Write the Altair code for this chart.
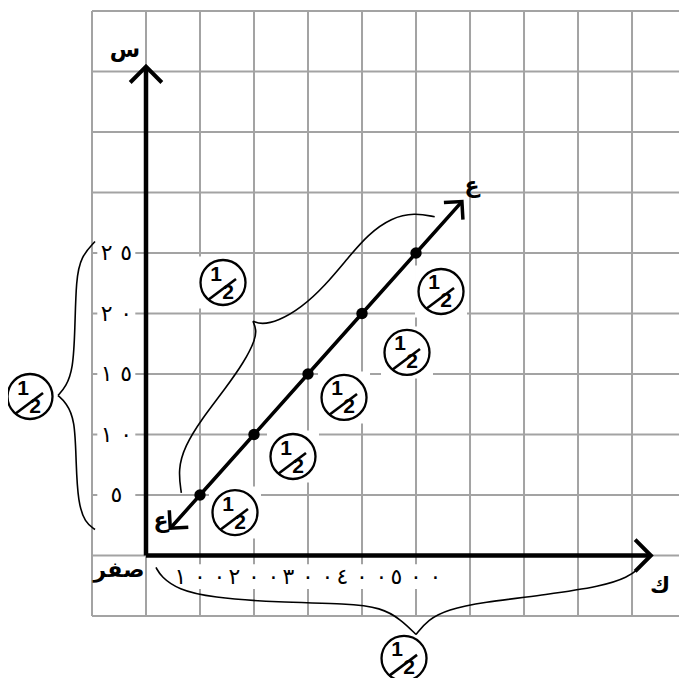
import math
import altair as alt
import pandas as pd

# ---------------- values ----------------
point_x = [100, 200, 300, 400, 500]
point_y = [5, 10, 15, 20, 25]
line_x = [45, 100, 200, 300, 400, 500, 585]
line_y = [2.25, 5, 10, 15, 20, 25, 29.25]

x_ticks = [100, 200, 300, 400, 500]
x_tick_labels = ["١٠٠", "٢٠٠", "٣٠٠", "٤٠٠", "٥٠٠"]
y_ticks = [5, 10, 15, 20, 25]
y_tick_labels = ["٥", "١٠", "١٥", "٢٠", "٢٥"]

grid_x = [-100, 0, 100, 200, 300, 400, 500, 600, 700, 800, 900]
grid_y = [-5, 0, 5, 10, 15, 20, 25, 30, 35, 40, 45]

axis_x_end = 935
axis_y_end = 40.4

half_x = [142.6, 546.3, 483.3, 366.7, 272.2, 164.8, -214.8, 477.8]
half_y = [22.56, 21.82, 16.78, 13.06, 8.18, 3.55, 13.14, -8.5]

letter_text = ["س", "ك", "صفر", "ع", "ع"]
letter_x = [-38.9, 951.9, -50.0, 603.7, 27.8]
letter_y = [41.8, -2.56, -1.16, 30.5, 2.81]

# braces (each split in two halves meeting at the tip)
brace_left_top_x = [-94.4, -120.4, -129.6, -131.5, -135.2, -148.1, -163.0]
brace_left_top_y = [25.95, 24.71, 22.81, 18.68, 15.37, 13.97, 13.22]
brace_left_bot_x = [-163.0, -148.1, -131.5, -129.6, -125.9, -113.0, -94.4]
brace_left_bot_y = [13.22, 12.64, 11.24, 7.69, 4.38, 2.73, 2.15]
brace_bottom_l_x = [18.5, 27.8, 59.3, 120.4, 244.4, 374.1, 435.2, 472.2, 500.0]
brace_bottom_l_y = [-0.99, -1.74, -2.81, -3.47, -3.88, -3.97, -4.30, -5.29, -6.53]
brace_bottom_r_x = [500.0, 522.2, 559.3, 620.4, 744.4, 842.6, 892.6, 914.8]
brace_bottom_r_y = [-6.53, -5.29, -4.46, -3.88, -3.22, -2.56, -1.82, -0.99]
brace_diag_lo_x = [65.4, 59.3, 71.7, 102.4, 145.7, 182.8, 202.4, 204.3, 198.1]
brace_diag_lo_y = [5.18, 7.11, 9.03, 11.24, 13.72, 16.06, 17.85, 18.68, 19.36]
brace_diag_up_x = [198.1, 213.5, 244.4, 287.6, 330.9, 374.1, 411.1, 454.3, 497.6, 534.6]
brace_diag_up_y = [19.36, 19.09, 19.36, 20.47, 22.26, 24.60, 26.53, 27.91, 28.32, 27.99]

# ---------------- layout ----------------
PX_X = 0.54          # pixels per x unit
PX_Y = 12.1          # pixels per y unit
X_DOMAIN = [-100, 987]
Y_DOMAIN = [-5, 45]
W = round((X_DOMAIN[1] - X_DOMAIN[0]) * PX_X)
H = round((Y_DOMAIN[1] - Y_DOMAIN[0]) * PX_Y)

xs = alt.Scale(domain=X_DOMAIN, nice=False, zero=False)
ys = alt.Scale(domain=Y_DOMAIN, nice=False, zero=False)


def X(f):
    return alt.X(f, type="quantitative", scale=xs, axis=None)


def Y(f):
    return alt.Y(f, type="quantitative", scale=ys, axis=None)


AR_FONT = "DejaVu Sans"
GRID = "#a3a3a3"
DIGIT_STEP = 19.5    # pixel spacing between digits of a tick label

# ---------------- tables ----------------
df_gx = pd.DataFrame({"gx": grid_x})
df_gy = pd.DataFrame({"gy": grid_y})
df_pts = pd.DataFrame({"x": point_x, "y": point_y})
df_line = pd.DataFrame({"x": line_x, "y": line_y})
df_half = pd.DataFrame({"x": half_x, "y": half_y})
df_xl = pd.DataFrame({"x": x_ticks, "t": x_tick_labels})
df_yl = pd.DataFrame({"y": y_ticks, "t": y_tick_labels})
df_xl["y"] = -1.74
df_yl["x"] = -55.0
df_let = pd.DataFrame({"x": letter_x, "y": letter_y, "t": letter_text})


def split_digits(df):
    rows = []
    for _, r in df.iterrows():
        n = len(r["t"])
        for k, ch in enumerate(r["t"]):
            off = (k - (n - 1) / 2) * DIGIT_STEP / PX_X
            rows.append({"x": r["x"] + off, "y": r["y"], "ch": ch})
    return pd.DataFrame(rows)


df_xd = split_digits(df_xl)
df_yd = split_digits(df_yl)

braces = []
for seg, (bx, by) in enumerate([
    (brace_left_top_x, brace_left_top_y), (brace_left_bot_x, brace_left_bot_y),
    (brace_bottom_l_x, brace_bottom_l_y), (brace_bottom_r_x, brace_bottom_r_y),
    (brace_diag_lo_x, brace_diag_lo_y), (brace_diag_up_x, brace_diag_up_y),
]):
    for i, (a, b) in enumerate(zip(bx, by)):
        braces.append({"x": a, "y": b, "seg": seg, "i": i})
df_brace = pd.DataFrame(braces)

df_yaxis = pd.DataFrame({"x": [0], "y": [0], "y2": [axis_y_end]})
df_xaxis = pd.DataFrame({"x": [0], "x2": [axis_x_end], "y": [0]})


def screen_angle(dx, dy):
    a = math.degrees(math.atan2(-dy * PX_Y, dx * PX_X))
    return a % 360


df_axis_arrows = pd.DataFrame({
    "x": [0, axis_x_end], "y": [axis_y_end, 0],
    "ang": [screen_angle(0, 1), screen_angle(1, 0)],
})
ddx = line_x[-1] - line_x[0]
ddy = line_y[-1] - line_y[0]
df_line_arrows = pd.DataFrame({
    "x": [line_x[-1], line_x[0]], "y": [line_y[-1], line_y[0]],
    "ang": [screen_angle(ddx, ddy), screen_angle(-ddx, -ddy)],
})

CHEVRON = "M-1,-1L0,0L-1,1"

# ---------------- layers ----------------
vgrid = alt.Chart(df_gx).mark_rule(color=GRID, strokeWidth=2).encode(x=X("gx"))
hgrid = alt.Chart(df_gy).mark_rule(color=GRID, strokeWidth=2).encode(y=Y("gy"))

box_half = alt.Chart(df_half).mark_point(
    shape="square", size=2704, filled=True, color="white", opacity=1, strokeWidth=0
).encode(x=X("x"), y=Y("y"))
box_xl = alt.Chart(df_xl).mark_point(
    shape="M-1,-0.46H1V0.46H-1Z", size=2916, filled=True, color="white", opacity=1, strokeWidth=0
).encode(x=X("x"), y=Y("y"))
box_yl = alt.Chart(df_yl).mark_point(
    shape="M-1,-0.63H1V0.63H-1Z", size=1444, filled=True, color="white", opacity=1, strokeWidth=0
).encode(x=X("x"), y=Y("y"))

brace = alt.Chart(df_brace).mark_line(
    color="black", strokeWidth=1.6, interpolate="basis"
).encode(x=X("x"), y=Y("y"), detail="seg:N", order="i:Q")

yaxis = alt.Chart(df_yaxis).mark_rule(color="black", strokeWidth=4.5).encode(
    x=X("x"), y=Y("y"), y2="y2")
xaxis = alt.Chart(df_xaxis).mark_rule(color="black", strokeWidth=4.5).encode(
    x=X("x"), x2="x2", y=Y("y"))

axis_arrows = alt.Chart(df_axis_arrows).mark_point(
    shape=CHEVRON, size=1000, filled=False, color="black", strokeWidth=4, opacity=1
).encode(x=X("x"), y=Y("y"), angle=alt.Angle("ang:Q", scale=None))

main_line = alt.Chart(df_line).mark_line(color="black", strokeWidth=3.5).encode(
    x=X("x"), y=Y("y"))
line_arrows = alt.Chart(df_line_arrows).mark_point(
    shape=CHEVRON, size=650, filled=False, color="black", strokeWidth=3.5, opacity=1
).encode(x=X("x"), y=Y("y"), angle=alt.Angle("ang:Q", scale=None))

points = alt.Chart(df_pts).mark_circle(size=130, color="black", opacity=1).encode(
    x=X("x"), y=Y("y"))

half_circle = alt.Chart(df_half).mark_point(
    shape="circle", size=2025, filled=True, fill="white", stroke="black",
    strokeWidth=2.3, opacity=1, fillOpacity=1
).encode(x=X("x"), y=Y("y"))
half_one = alt.Chart(df_half).mark_text(
    text="1", font="Liberation Sans", fontSize=21, fontWeight="bold",
    dx=-7, dy=-8, color="black", baseline="middle"
).encode(x=X("x"), y=Y("y"))
half_two = alt.Chart(df_half).mark_text(
    text="2", font="Liberation Sans", fontSize=21, fontWeight="bold",
    dx=5, dy=10, color="black", baseline="middle"
).encode(x=X("x"), y=Y("y"))
half_slash = alt.Chart(df_half).mark_point(
    shape="M-1,0.75L1,-0.75", size=784, filled=False, color="black",
    strokeWidth=2.6, opacity=1, xOffset=-1, yOffset=7
).encode(x=X("x"), y=Y("y"))

xlab = alt.Chart(df_xd).mark_text(
    font=AR_FONT, fontSize=22, color="black", baseline="middle"
).encode(x=X("x"), y=Y("y"), text="ch:N")
ylab = alt.Chart(df_yd).mark_text(
    font=AR_FONT, fontSize=22, color="black", baseline="middle"
).encode(x=X("x"), y=Y("y"), text="ch:N")
letters = alt.Chart(df_let).mark_text(
    font=AR_FONT, fontSize=22, fontWeight="bold", color="black", baseline="middle"
).encode(x=X("x"), y=Y("y"), text="t:N")

chart = alt.layer(
    vgrid, hgrid, box_half, box_xl, box_yl, brace, yaxis, xaxis, axis_arrows,
    main_line, line_arrows, points, half_circle, half_one, half_two, half_slash,
    xlab, ylab, letters,
).properties(
    width=W, height=H,
    padding={"left": 84, "top": 3, "right": 0, "bottom": 62},
    autosize=alt.AutoSizeParams(type="none"),
).configure_view(stroke=None)

chart.save("out.html", embed_options={"renderer": "svg", "actions": False})
